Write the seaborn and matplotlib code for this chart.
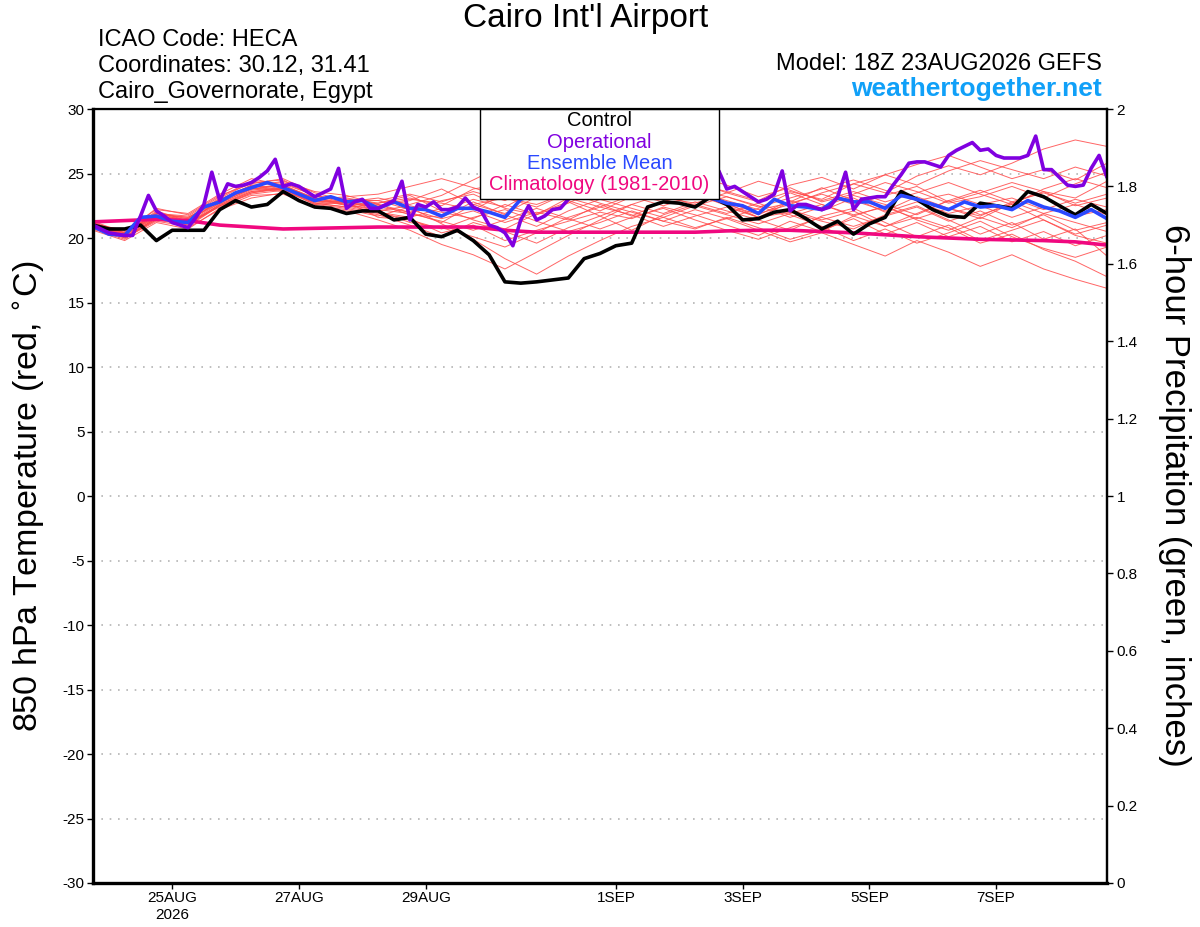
import numpy as np
import pandas as pd
import matplotlib
matplotlib.use('Agg')
import matplotlib.pyplot as plt
from matplotlib.patches import Rectangle
from matplotlib.ticker import FuncFormatter
import seaborn as sns

# run start 23AUG2026 18Z
start = pd.Timestamp('2026-08-23 18:00')

# control run, 6-hourly (deg C)
control = [21.0, 20.7, 20.7, 21.0, 19.8, 20.6, 20.6, 20.6, 22.2, 22.9, 22.4, 22.6, 23.6, 22.9, 22.4, 22.3, 21.9,
           22.1, 22.1, 21.4, 21.6, 20.3, 20.1, 20.6, 19.8, 18.7, 16.6, 16.5, 16.6, 16.75, 16.9, 18.4, 18.8,
           19.4, 19.6, 22.4, 22.8, 22.7, 22.4, 23.2, 22.6, 21.4, 21.5, 22.0, 22.2, 21.5, 20.7, 21.3, 20.3,
           21.1, 21.6, 23.6, 23.0, 22.2, 21.7, 21.6, 22.7, 22.5, 22.3, 23.6, 23.2, 22.5, 21.8, 22.6, 21.9]

# operational run, 3-hourly
operational = [21.0, 20.7, 20.4, 20.3, 20.2, 20.2, 21.7, 23.3, 22.1, 21.7, 21.2, 21.0, 20.8, 21.6, 22.6, 25.1,
               22.9, 24.2, 24.0, 24.1, 24.3, 24.7, 25.2, 26.1, 24.0, 24.2, 24.0, 23.6, 23.2, 23.5, 23.8, 25.4,
               22.3, 22.8, 23.0, 22.3, 22.3, 22.6, 22.9, 24.4, 21.4, 22.6, 22.4, 22.8, 22.2, 22.2, 22.4, 23.1,
               22.4, 22.1, 21.0, 20.8, 20.4, 19.4, 21.4, 22.5, 21.4, 21.7, 22.2, 22.3, 23.0,
               23.8, 24.2, 24.0, 24.5, 24.3, 24.8, 25.0, 24.6, 24.9, 25.3, 24.8, 25.1, 25.5, 25.0, 25.4, 25.7,
               25.3, 25.6,
               25.2, 23.8, 24.0, 23.6, 23.2, 22.8, 23.0, 23.4, 25.2, 22.1, 22.6, 22.6, 22.4, 22.2, 22.4, 23.2,
               25.1, 22.2, 23.0, 23.1, 23.2, 23.2, 24.1, 24.9, 25.8, 25.9, 25.9, 25.7, 25.5, 26.4, 26.8, 27.1,
               27.4, 26.8, 26.9, 26.4, 26.2, 26.2, 26.2, 26.4, 27.9, 25.3, 25.3, 24.7, 24.1, 24.0, 24.1, 25.4,
               26.4, 24.7]

# ensemble mean, 6-hourly
ens_mean = [20.9, 20.3, 20.2, 21.6, 21.7, 21.3, 21.2, 22.4, 22.8, 23.5, 23.9, 24.3, 23.9, 23.4, 22.9, 23.2, 22.8,
            22.9, 22.3, 22.8, 22.3, 22.2, 21.7, 22.3, 22.3, 22.0, 21.6, 23.0,
            23.4, 23.7, 23.9, 24.0, 24.1, 23.9, 23.7, 23.8, 23.6, 23.4, 23.3,
            23.1, 22.7, 22.5, 21.9, 23.0, 22.5, 22.4, 22.2, 23.1, 22.8,
            22.8, 22.3, 23.3, 23.0, 22.6, 22.2, 22.8, 22.4, 22.5, 22.2, 22.9, 22.4, 22.1, 21.6, 22.2, 21.5]

# climatology 1981-2010, 12-hourly
climo = [21.25, 21.35, 21.45, 21.35, 21.0, 20.85, 20.7, 20.75, 20.8, 20.85, 20.85, 20.85, 20.85, 20.6, 20.45,
         20.45, 20.45, 20.45, 20.45, 20.45, 20.55, 20.6, 20.6, 20.5, 20.4, 20.25, 20.1, 20.0, 19.9, 19.85, 19.8,
         19.7, 19.45]

# ensemble members, 12-hourly
m01 = [21.0, 20.3, 21.9, 21.5, 23.1, 24.3, 24.5, 23.2, 23.0, 22.9, 23.4, 22.8, 23.6, 22.9, 24.1, 24.8, 25.2, 24.6, 23.9, 24.4, 23.5, 22.8, 23.6, 23.0, 24.2, 23.5, 24.8, 25.6, 24.9, 25.8, 26.9, 27.6, 27.1]
m02 = [20.8, 20.0, 21.4, 21.0, 22.5, 23.6, 23.8, 22.7, 22.4, 21.9, 21.5, 20.4, 21.0, 19.8, 20.6, 21.3, 22.0, 21.5, 22.4, 21.8, 21.0, 20.2, 21.3, 20.5, 21.7, 20.9, 21.6, 20.8, 19.6, 20.3, 19.1, 18.2, 17.0]
m03 = [21.1, 20.6, 22.2, 21.9, 23.4, 24.6, 24.1, 23.1, 22.6, 22.7, 23.1, 22.5, 23.8, 24.2, 25.1, 24.4, 23.6, 24.5, 25.0, 23.8, 23.2, 22.4, 23.1, 23.8, 24.5, 23.7, 22.9, 23.4, 22.6, 23.1, 22.2, 23.0, 22.4]
m04 = [20.7, 19.9, 21.6, 20.8, 22.2, 23.1, 23.5, 22.4, 22.1, 21.4, 20.6, 19.5, 18.7, 17.6, 18.9, 20.2, 21.4, 22.6, 21.9, 22.8, 22.1, 21.4, 20.6, 21.7, 22.3, 21.2, 20.1, 21.0, 19.8, 20.6, 21.4, 20.2, 19.6]
m05 = [21.3, 20.4, 21.8, 21.6, 23.0, 24.0, 24.4, 23.6, 23.3, 22.6, 22.0, 22.9, 23.4, 22.3, 21.8, 22.7, 23.9, 24.8, 25.6, 24.2, 23.6, 22.9, 24.1, 24.7, 23.8, 24.9, 25.7, 26.4, 25.5, 24.6, 25.3, 24.5, 25.8]
m06 = [20.9, 20.1, 21.5, 21.1, 22.6, 23.7, 24.0, 22.8, 22.9, 22.1, 21.2, 20.8, 20.1, 19.3, 20.4, 21.6, 22.4, 21.8, 20.9, 21.7, 22.4, 21.6, 22.0, 21.3, 20.7, 21.8, 22.5, 21.4, 20.3, 21.2, 19.9, 20.7, 18.6]
m07 = [21.2, 20.2, 22.1, 21.3, 22.9, 24.1, 23.7, 23.0, 23.2, 23.4, 24.0, 24.6, 23.9, 23.1, 22.6, 23.5, 24.2, 23.4, 22.8, 23.6, 22.9, 22.2, 22.7, 23.4, 22.6, 23.3, 24.0, 22.8, 23.5, 24.3, 23.6, 22.5, 23.1]
m08 = [20.6, 19.8, 21.2, 20.7, 22.3, 23.3, 23.4, 22.5, 22.2, 21.7, 22.4, 21.1, 19.9, 18.4, 17.2, 18.6, 19.8, 20.9, 21.6, 20.8, 21.5, 20.6, 19.7, 20.4, 19.5, 18.6, 19.8, 18.9, 17.8, 18.7, 17.6, 16.8, 16.1]
m09 = [21.0, 20.4, 21.7, 21.4, 22.7, 23.8, 24.2, 23.3, 22.7, 22.5, 23.0, 22.7, 22.2, 23.4, 24.6, 25.4, 24.7, 23.9, 24.6, 23.7, 22.8, 21.9, 22.6, 23.5, 24.2, 24.9, 24.1, 25.2, 26.0, 25.3, 24.6, 25.5, 24.8]
m10 = [20.8, 20.3, 22.0, 21.2, 22.4, 23.5, 23.9, 23.1, 22.5, 22.0, 21.6, 22.3, 21.4, 20.7, 21.9, 22.8, 21.7, 22.6, 23.4, 22.5, 21.8, 21.1, 21.9, 22.6, 21.8, 22.4, 21.5, 22.3, 21.7, 22.8, 21.9, 21.2, 20.5]
m11 = [21.1, 20.5, 21.9, 21.7, 23.2, 24.4, 24.0, 22.9, 22.8, 23.1, 22.6, 23.3, 24.5, 25.7, 24.9, 24.2, 25.0, 23.8, 23.1, 22.7, 23.5, 24.4, 23.7, 22.9, 23.6, 22.8, 23.5, 24.3, 23.4, 22.6, 23.8, 24.6, 23.9]
m12 = [20.9, 20.0, 21.3, 20.9, 22.5, 23.4, 23.7, 22.6, 22.3, 21.8, 21.0, 20.1, 21.2, 20.5, 19.6, 20.8, 21.7, 20.6, 21.8, 22.6, 21.9, 22.7, 21.8, 20.9, 19.8, 20.7, 19.6, 20.4, 21.3, 20.1, 19.2, 18.5, 19.3]
m13 = [21.2, 20.4, 22.3, 21.8, 23.3, 24.2, 24.6, 23.5, 22.9, 22.4, 22.9, 23.8, 22.6, 21.9, 23.2, 24.5, 25.9, 26.7, 25.6, 24.8, 24.1, 23.2, 23.9, 22.8, 23.4, 24.3, 23.6, 22.7, 23.2, 24.0, 23.1, 24.2, 25.1]
m14 = [20.7, 20.1, 21.5, 21.4, 22.8, 23.9, 23.6, 22.8, 22.6, 22.2, 21.9, 21.3, 20.6, 21.4, 22.3, 21.5, 20.7, 21.6, 22.3, 21.4, 20.6, 19.9, 20.8, 21.6, 20.9, 21.7, 22.4, 21.3, 22.1, 21.0, 21.8, 20.6, 21.2]
m15 = [21.0, 20.2, 21.8, 21.2, 22.7, 23.8, 24.1, 23.0, 23.1, 22.7, 23.3, 22.1, 23.0, 22.4, 23.7, 22.9, 22.1, 23.2, 22.5, 23.3, 22.6, 21.8, 22.9, 22.1, 23.1, 22.0, 22.8, 21.9, 22.5, 21.6, 22.4, 21.7, 22.2]
m16 = [20.8, 20.3, 21.6, 21.0, 22.6, 23.6, 23.9, 22.7, 22.4, 22.6, 21.8, 21.6, 22.8, 21.8, 20.9, 22.1, 23.0, 22.3, 21.6, 22.5, 23.2, 22.5, 21.6, 22.4, 23.3, 22.6, 21.8, 22.9, 23.7, 22.8, 23.5, 22.7, 23.4]
m17 = [21.1, 20.3, 21.7, 21.5, 23.0, 24.1, 24.3, 23.3, 22.9, 22.9, 22.2, 21.5, 22.1, 21.2, 22.0, 21.4, 22.6, 21.7, 22.8, 23.6, 22.7, 21.6, 22.2, 21.4, 22.1, 20.9, 21.9, 22.9, 21.8, 22.6, 21.4, 20.3, 21.0]
m18 = [20.9, 20.2, 21.6, 21.3, 22.9, 23.8, 23.8, 22.9, 22.6, 22.1, 22.5, 22.0, 21.5, 22.6, 21.8, 23.1, 22.4, 23.3, 24.2, 23.4, 22.5, 21.6, 22.8, 23.9, 22.9, 22.1, 23.2, 22.3, 21.5, 22.7, 23.6, 23.1, 24.4]
m19 = [21.0, 20.4, 21.9, 21.6, 22.8, 24.0, 24.0, 23.1, 22.7, 22.4, 22.0, 21.2, 22.6, 23.1, 22.4, 23.5, 22.7, 22.0, 21.3, 22.2, 21.5, 22.3, 23.5, 22.6, 21.7, 22.5, 21.4, 20.6, 21.6, 20.8, 21.9, 22.6, 21.8]
m20 = [20.8, 20.1, 21.4, 21.2, 22.5, 23.5, 23.8, 22.6, 22.8, 21.6, 21.4, 20.7, 21.6, 22.2, 21.3, 20.5, 21.2, 22.1, 21.3, 20.7, 21.6, 20.8, 19.9, 20.6, 21.5, 20.3, 21.2, 20.1, 20.9, 19.7, 20.5, 19.4, 20.2]
members = [m01, m02, m03, m04, m05, m06, m07, m08, m09, m10, m11, m12, m13, m14, m15, m16, m17, m18, m19, m20]

tick_days = ['2026-08-25', '2026-08-27', '2026-08-29', '2026-09-01', '2026-09-03', '2026-09-05', '2026-09-07']
tick_labels = ['25AUG\n2026', '27AUG', '29AUG', '1SEP', '3SEP', '5SEP', '7SEP']

t6 = start + pd.to_timedelta(np.arange(len(control)) * 6, unit='h')
t3 = start + pd.to_timedelta(np.arange(len(operational)) * 3, unit='h')
t12 = start + pd.to_timedelta(np.arange(len(climo)) * 12, unit='h')

mem_df = pd.DataFrame({
    'time': np.tile(t12, len(members)),
    'temp': np.concatenate(members),
    'member': np.repeat(np.arange(len(members)), len(t12)),
})

sns.set_style('ticks')
plt.rcParams['font.family'] = ['Liberation Sans', 'DejaVu Sans']
plt.rcParams['axes.unicode_minus'] = False
for key in ['text.color', 'axes.labelcolor', 'xtick.color', 'ytick.color', 'axes.edgecolor']:
    plt.rcParams[key] = 'black'

fig = plt.figure(figsize=(12, 9.27), dpi=100)
ax = fig.add_axes([93 / 1200, 1 - 883 / 927, (1107 - 93) / 1200, (883 - 109) / 927])

C_OP = '#8000e0'
C_MEAN = '#2a48ff'
C_CLIMO = '#f0087f'
C_MEM = '#ff4a4a'

sns.lineplot(data=mem_df, x='time', y='temp', units='member', estimator=None, color=C_MEM,
             lw=0.7, alpha=0.85, ax=ax, legend=False)
sns.lineplot(x=t12, y=climo, color=C_CLIMO, lw=2.6, ax=ax)
sns.lineplot(x=t6, y=control, color='black', lw=2.6, ax=ax)
sns.lineplot(x=t6, y=ens_mean, color=C_MEAN, lw=2.6, ax=ax)
sns.lineplot(x=t3, y=operational, color=C_OP, lw=2.6, ax=ax)

ax.set_xlim(start, start + pd.Timedelta(days=16))
ax.set_ylim(-30, 30)
ax.set_yticks(np.arange(-30, 31, 5))
ax.set_xticks(pd.to_datetime(tick_days))
ax.set_xticklabels(tick_labels)
ax.set_xlabel('')
ax.set_ylabel('')
for yv in range(-25, 30, 5):
    ax.axhline(yv, color='#b4b4b4', lw=1.2, ls=(0, (1, 4)), zorder=0.5)

ax.tick_params(axis='both', labelsize=11, length=4, width=1, pad=2, direction='out', color='black')
for side, lw in [('left', 2.4), ('bottom', 2.4), ('top', 1.6), ('right', 1.6)]:
    ax.spines[side].set_visible(True)
    ax.spines[side].set_linewidth(lw)
    ax.spines[side].set_color('black')

ax2 = ax.twinx()
ax2.set_ylim(0, 2)
ax2.set_yticks(np.arange(0, 2.01, 0.2))
ax2.yaxis.set_major_formatter(FuncFormatter(lambda v, p: '%g' % round(v, 1)))
ax2.tick_params(axis='y', labelsize=11, length=4, width=1, pad=3, direction='out')
ax2.spines['right'].set_linewidth(1.6)
ax2.grid(False)

# legend box
ax.add_patch(Rectangle((0.382, 0.884), 0.235, 0.116, transform=ax.transAxes, facecolor='white',
                       edgecolor='black', lw=1.0, zorder=20, clip_on=False))
leg_items = [('Control', 'black'), ('Operational', C_OP), ('Ensemble Mean', C_MEAN),
             ('Climatology (1981-2010)', C_CLIMO)]
for k, (txt, col) in enumerate(leg_items):
    ax.text(0.4995, 0.9845 - k * 0.0275, txt, color=col, fontsize=14.5, ha='center', va='center',
            transform=ax.transAxes, zorder=21)

# header
fig.text(586 / 1200, 1 - 19 / 927, "Cairo Int'l Airport", fontsize=24, ha='center', va='center')
fig.text(98 / 1200, 1 - 40 / 927, 'ICAO Code: HECA', fontsize=17, ha='left', va='center')
fig.text(98 / 1200, 1 - 66 / 927, 'Coordinates: 30.12, 31.41', fontsize=17, ha='left', va='center')
fig.text(98 / 1200, 1 - 92 / 927, 'Cairo_Governorate, Egypt', fontsize=17, ha='left', va='center')
fig.text(1102 / 1200, 1 - 64 / 927, 'Model: 18Z 23AUG2026 GEFS', fontsize=17, ha='right', va='center')
fig.text(1102 / 1200, 1 - 89 / 927, 'weathertogether.net', fontsize=19, fontweight='bold',
         color='#10a0f8', ha='right', va='center')

fig.text(30 / 1200, 1 - 496 / 927, r'850 hPa Temperature (red, $^{\circ}$C)', fontsize=24.5,
         rotation=90, ha='center', va='center')
fig.text(1175 / 1200, 1 - 495 / 927, '6-hour Precipitation (green, inches)', fontsize=25,
         rotation=270, ha='center', va='center')

fig.savefig('out.png', dpi=100)
